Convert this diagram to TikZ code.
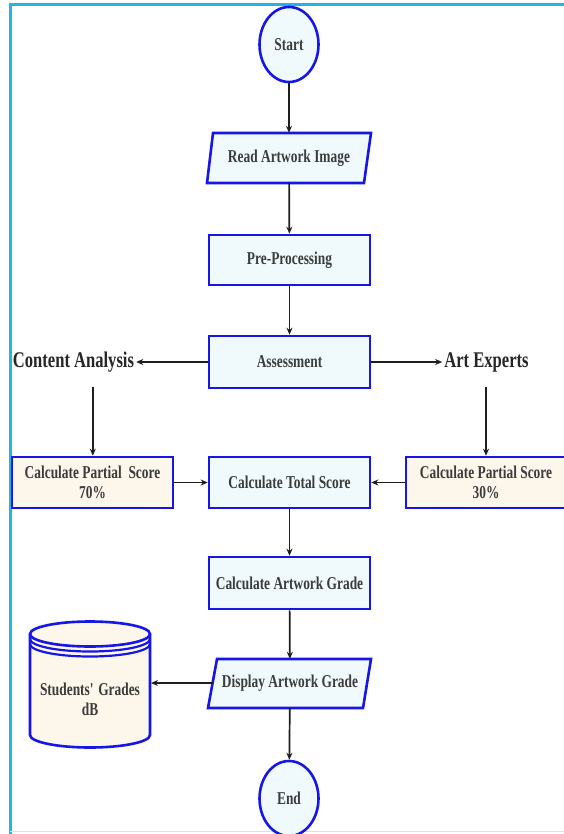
\documentclass[tikz,border=0pt]{standalone}
\usepackage{fontspec}
\setmainfont{Liberation Serif}[FakeStretch=0.74]
\usetikzlibrary{arrows.meta,shapes.geometric}
\definecolor{boxblue}{HTML}{1616E6}
\definecolor{cyanfill}{HTML}{F0FAFD}
\definecolor{beige}{HTML}{FDF6EB}
\definecolor{framecyan}{HTML}{22B3E8}
\definecolor{txtgray}{HTML}{3C3C3C}
\definecolor{arrgray}{HTML}{1E1E1E}
\tikzset{
  txt/.style={font=\fontsize{18.1}{20}\selectfont\bfseries, text=txtgray, align=center, inner sep=0pt},
  proc/.style={txt, draw=boxblue, line width=2.6pt, fill=cyanfill, rectangle, minimum width=161pt},
  part/.style={txt, draw=boxblue, line width=2.6pt, fill=beige, rectangle, minimum height=51pt},
  term/.style={txt, draw=boxblue, line width=2.6pt, fill=cyanfill, ellipse, minimum width=59pt, minimum height=75pt},
  iobox/.style={draw=boxblue, line width=2.6pt, fill=cyanfill, line join=miter},
  biglabel/.style={font=\fontsize{22.4}{24}\selectfont\bfseries, text=black!85, inner sep=2pt},
  conn/.style={draw=arrgray, line width=1.7pt, -{Stealth[length=7pt,width=6pt]}},
}
\begin{document}
\begin{tikzpicture}[x=1pt,y=1pt]
\useasboundingbox (0,0) rectangle (564,-834);
\clip (0,0) rectangle (564,-834);
\fill[white] (0,0) rectangle (564,-834);
% frame
\draw[framecyan, line width=3pt] (10,-5) rectangle (600,-900);
\draw[black!12, line width=1pt] (10,-831) -- (564,-831);

% terminals
\node[term] (start) at (289,-44.5) {Start};
\node[term] (end) at (289,-798.5) {End};

% read artwork image (parallelogram)
\draw[iobox] (213,-133) -- (371,-133) -- (364,-183) -- (207,-183) -- cycle;
\node[txt, minimum width=150pt, minimum height=50pt] (read) at (289,-158) {Read Artwork Image};

% processes
\node[proc, minimum height=50pt] (pre) at (289.5,-260) {Pre-Processing};
\node[proc, minimum height=52pt] (assess) at (289.5,-362) {Assessment};
\node[proc, minimum height=51pt] (total) at (289.5,-482.5) {Calculate Total Score};
\node[proc, minimum height=52pt] (grade) at (289.5,-583) {Calculate Artwork Grade};

% partial scores
\node[part, minimum width=161pt] (pl) at (92.5,-482.5) {Calculate Partial\ \ Score\\70\%};
\node[part, minimum width=160pt] (pr) at (486,-482.5) {Calculate Partial Score\\30\%};

% side labels
\node[biglabel] (ca) at (73.5,-362) {Content Analysis};
\node[biglabel] (ae) at (486.5,-362) {Art Experts};
\coordinate (cas) at (92.8,-387);
\coordinate (aes) at (486,-387);

% display artwork grade (parallelogram)
\draw[iobox] (217,-659) -- (371,-659) -- (363,-708) -- (208,-708) -- cycle;
\node[txt, minimum width=150pt, minimum height=49pt] (disp) at (290,-683.5) {Display Artwork Grade};
\coordinate (dispW) at (212.5,-683);

% database cylinder
\path[fill=beige] (30,-634) -- (30,-735) arc[start angle=180,end angle=360,x radius=60,y radius=12.5]
  -- (150,-634) arc[start angle=0,end angle=180,x radius=60,y radius=12.5] -- cycle;
\draw[boxblue, line width=2.6pt] (90,-634) ellipse[x radius=60,y radius=12.5];
\draw[boxblue, line width=2.6pt] (30,-634) -- (30,-735) arc[start angle=180,end angle=360,x radius=60,y radius=12.5] -- (150,-634);
\draw[boxblue, line width=2.2pt] (30,-639) arc[start angle=180,end angle=360,x radius=60,y radius=12.5];
\draw[boxblue, line width=2.2pt] (30,-644) arc[start angle=180,end angle=360,x radius=60,y radius=12.5];
\node[txt] (db) at (90,-699) {Students\textquotesingle\ Grades\\dB};
\coordinate (dbE) at (151,-683);

% connectors
\draw[conn] (start) -- (read);
\draw[conn] (read) -- (pre);
\draw[conn] (pre) -- (assess);
\draw[conn] (assess) -- (ca);
\draw[conn] (assess) -- (ae);
\draw[conn] (cas) -- (pl.north -| cas);
\draw[conn] (aes) -- (pr.north -| aes);
\draw[conn] (pl) -- (total);
\draw[conn] (pr) -- (total);
\draw[conn] (total) -- (grade);
\draw[conn] (grade) -- (disp);
\draw[conn] (disp) -- (end);
\draw[conn] (dispW) -- (dbE);
\end{tikzpicture}
\end{document}
